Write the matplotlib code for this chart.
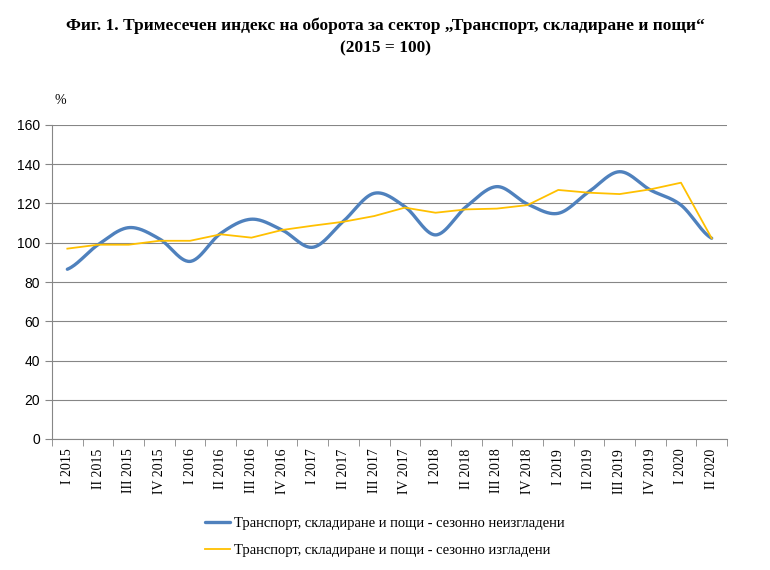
import numpy as np
import matplotlib
matplotlib.use('Agg')
import matplotlib.pyplot as plt

quarters = ['I 2015', 'II 2015', 'III 2015', 'IV 2015',
            'I 2016', 'II 2016', 'III 2016', 'IV 2016',
            'I 2017', 'II 2017', 'III 2017', 'IV 2017',
            'I 2018', 'II 2018', 'III 2018', 'IV 2018',
            'I 2019', 'II 2019', 'III 2019', 'IV 2019',
            'I 2020', 'II 2020']
not_adjusted = [86.5, 99.0, 107.7, 102.0, 90.5, 104.8, 112.0, 106.5, 97.7, 111.0, 125.2,
                118.4, 104.0, 118.4, 128.6, 119.7, 115.0, 126.0, 136.2, 126.9, 119.2, 102.3]
adjusted = [97.0, 99.0, 99.0, 101.0, 101.0, 104.3, 102.6, 106.5, 108.7, 110.7, 113.6,
            117.9, 115.3, 117.0, 117.4, 119.2, 126.9, 125.5, 124.8, 127.2, 130.6, 102.3]

label_nsa = 'Транспорт, складиране и пощи - сезонно неизгладени'
label_sa = 'Транспорт, складиране и пощи - сезонно изгладени'
title_1 = 'Фиг. 1. Тримесечен индекс на оборота за сектор „Транспорт, складиране и пощи“'
title_2 = '(2015 = 100)'


def smooth(y, n=30):
    # catmull-rom style curve, like the smoothed line in Excel
    y = np.asarray(y, dtype=float)
    p = np.concatenate([[y[0]], y, [y[-1]]])
    xs, ys = [], []
    for i in range(len(y) - 1):
        p0, p1, p2, p3 = p[i], p[i + 1], p[i + 2], p[i + 3]
        t = np.linspace(0, 1, n, endpoint=False)
        v = 0.5 * ((2 * p1) + (-p0 + p2) * t + (2 * p0 - 5 * p1 + 4 * p2 - p3) * t ** 2
                   + (-p0 + 3 * p1 - 3 * p2 + p3) * t ** 3)
        xs.append(i + t)
        ys.append(v)
    xs.append([len(y) - 1])
    ys.append([y[-1]])
    return np.concatenate(xs), np.concatenate(ys)


fig = plt.figure(figsize=(7.7, 5.7), dpi=100)
ax = fig.add_axes([52 / 770, 1 - 439 / 570, 675 / 770, 314 / 570])

x = np.arange(len(quarters))
sx, sy = smooth(not_adjusted)
ax.plot(sx, sy, color='#4F81BD', lw=2.4, solid_capstyle='round', label=label_nsa, zorder=3)
ax.plot(x, adjusted, color='#FFC000', lw=1.3, label=label_sa, zorder=4)

ax.set_xlim(-0.5, len(quarters) - 0.5)
ax.set_ylim(0, 160)
ax.set_yticks(range(0, 161, 20))
ax.grid(axis='y', color='#868686', lw=0.8)
ax.set_axisbelow(True)
for s in ['top', 'right']:
    ax.spines[s].set_visible(False)
ax.spines['left'].set_color('#868686')
ax.spines['bottom'].set_color('#868686')
ax.set_xticks(x)
ax.set_xticklabels(quarters, rotation=90, family='Liberation Serif', fontsize=10)
ax.set_xticks(np.arange(-0.5, len(quarters), 1), minor=True)
ax.tick_params(axis='x', which='major', length=0, pad=7)
ax.tick_params(axis='x', which='minor', length=5, color='#868686')
ax.tick_params(axis='y', length=5, color='#868686', labelsize=10)
for t in ax.get_yticklabels():
    t.set_family('Liberation Sans')

fig.text(0.5, 1 - 26 / 570, title_1, ha='center', va='center', fontsize=12.5,
         fontweight='bold', family='Liberation Serif')
fig.text(0.5, 1 - 48 / 570, title_2, ha='center', va='center', fontsize=12.5,
         fontweight='bold', family='Liberation Serif')
fig.text(60 / 770, 1 - 100 / 570, '%', ha='center', va='center', fontsize=10,
         family='Liberation Serif')

fig.legend(loc='center', bbox_to_anchor=(0.5, 1 - 537 / 570), frameon=False,
           prop={'family': 'Liberation Serif', 'size': 10.5}, handlelength=1.7,
           handletextpad=0.3, labelspacing=0.9)

fig.savefig('out.png', dpi=100)
